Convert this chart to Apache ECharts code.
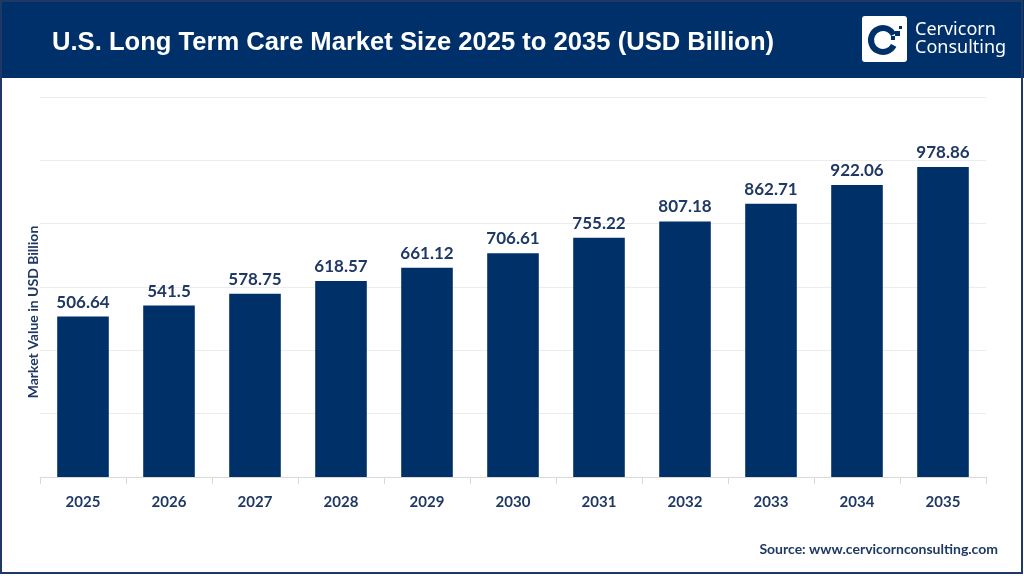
<!DOCTYPE html>
<html><head><meta charset="utf-8">
<script src="https://cdn.jsdelivr.net/npm/echarts@6/dist/echarts.min.js"></script>
<style>html,body{margin:0;padding:0;background:#fff}#c{width:1024px;height:576px}</style>
</head><body><div id="c"></div>
<script>
const years = ['2025','2026','2027','2028','2029','2030','2031','2032','2033','2034','2035'];
const marketValues = [506.64, 541.5, 578.75, 618.57, 661.12, 706.61, 755.22, 807.18, 862.71, 922.06, 978.86];
const titleText = 'U.S. Long Term Care Market Size 2025 to 2035 (USD Billion)';
const yAxisName = 'Market Value in USD Billion';
const sourceText = 'Source: www.cervicornconsulting.com';

const navy = '#003068';
const textNavy = '#1f3864';
const chart = echarts.init(document.getElementById('c'));
chart.setOption({
  animation: false,
  backgroundColor: '#fff',
  grid: {left: 40, right: 38, top: 97, bottom: 99},
  xAxis: {
    type: 'category', data: years,
    axisLine: {lineStyle: {color: '#d9d9d9', width: 1}},
    axisTick: {show: true, length: 7, lineStyle: {color: '#d9d9d9'}},
    axisLabel: {color: textNavy, fontFamily: 'Lato', fontWeight: 'bold', fontSize: 15, margin: 18}
  },
  yAxis: {
    type: 'value', min: 0, max: 1200, interval: 200,
    axisLabel: {show: false}, axisLine: {show: false}, axisTick: {show: false},
    splitLine: {lineStyle: {color: '#ececec', width: 1}}
  },
  series: [{
    type: 'bar', data: marketValues, barWidth: '60%',
    itemStyle: {color: navy},
    label: {show: true, position: 'top', distance: 6, color: textNavy,
      fontFamily: 'Lato', fontWeight: 'bold', fontSize: 17}
  }],
  graphic: [
    {type: 'rect', shape: {x: 0, y: 0, width: 1024, height: 78}, style: {fill: '#00306a'}, z: 10},
    {type: 'text', x: 52, y: 43, style: {text: titleText, fill: '#fff', font: 'bold 25.6px "Liberation Sans", Arial', textVerticalAlign: 'middle'}, z: 11},
    {type: 'rect', shape: {x: 862, y: 16, width: 45, height: 46, r: 3}, style: {fill: '#fff'}, z: 11},
    {type: 'arc', shape: {cx: 883, cy: 40, r: 12, startAngle: 0.15 * Math.PI, endAngle: 1.85 * Math.PI, clockwise: true}, style: {stroke: '#00306a', lineWidth: 6, fill: null}, z: 12},
    {type: 'rect', shape: {x: 895, y: 31, width: 5, height: 5}, style: {fill: '#00306a'}, z: 12},
    {type: 'rect', shape: {x: 891, y: 36, width: 4, height: 4}, style: {fill: '#00306a'}, z: 12},
    {type: 'rect', shape: {x: 899, y: 26, width: 3, height: 3}, style: {fill: '#00306a'}, z: 12},
    {type: 'text', x: 915, y: 30, style: {text: 'Cervicorn', fill: '#fff', font: '18px "Noto Sans", sans-serif', textVerticalAlign: 'middle'}, z: 11},
    {type: 'text', x: 915, y: 48, style: {text: 'Consulting', fill: '#fff', font: '18px "Noto Sans", sans-serif', textVerticalAlign: 'middle'}, z: 11},
    {type: 'text', x: 33, y: 312, rotation: Math.PI / 2, style: {text: yAxisName, fill: textNavy, font: 'bold 14px Lato', textAlign: 'center', textVerticalAlign: 'middle'}, z: 11},
    {type: 'text', x: 998, y: 549, style: {text: sourceText, fill: textNavy, font: 'bold 14px Lato', textAlign: 'right', textVerticalAlign: 'middle'}, z: 11},
    {type: 'rect', shape: {x: 1, y: 1, width: 1021, height: 572}, style: {fill: null, stroke: '#1f3864', lineWidth: 2}, z: 20}
  ]
});
</script></body></html>
